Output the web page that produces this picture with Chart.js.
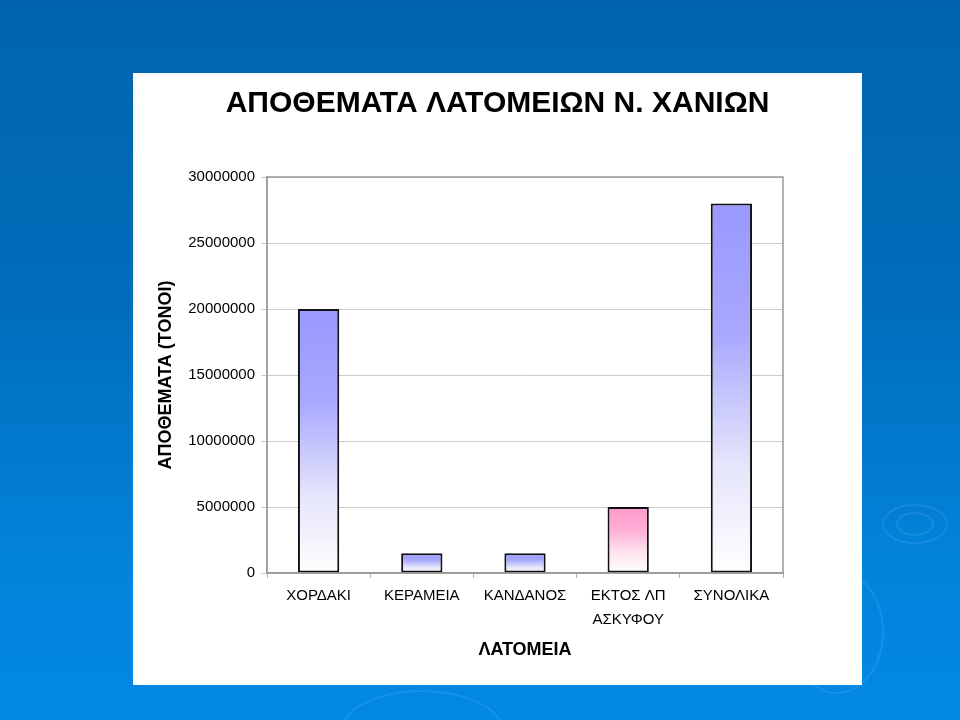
<!DOCTYPE html>
<html>
<head>
<meta charset="utf-8">
<script src="https://cdn.jsdelivr.net/npm/chart.js@4"></script>
<style>
    html, body { margin: 0; padding: 0; }
    body {
        width: 960px;
        height: 720px;
        overflow: hidden;
        position: relative;
        background: linear-gradient(to bottom, #0064ae 0%, #006cba 40%, #0284dc 80%, #0289e4 100%);
        font-family: "Liberation Sans", Arial, sans-serif;
    }
    .ring {
        position: absolute;
        border: 2px solid rgba(120, 190, 255, 0.18);
        border-radius: 50%;
    }
    #panel {
        position: absolute;
        left: 133px;
        top: 73px;
        width: 729px;
        height: 612px;
        background: #ffffff;
    }
</style>
</head>
<body>
<div class="ring" style="left:882px;top:504px;width:62px;height:36px;"></div>
<div class="ring" style="left:896px;top:512px;width:34px;height:20px;"></div>
<div class="ring" style="left:790px;top:570px;width:90px;height:120px;"></div>
<div class="ring" style="left:340px;top:690px;width:160px;height:80px;"></div>
<div id="panel"><canvas id="bar-canvas" width="729" height="612"></canvas></div>

<script>
// data
var categories = ['ΧΟΡΔΑΚΙ', 'ΚΕΡΑΜΕΙΑ', 'ΚΑΝΔΑΝΟΣ', ['ΕΚΤΟΣ ΛΠ', 'ΑΣΚΥΦΟΥ'], 'ΣΥΝΟΛΙΚΑ'];
var reserves = [20000000, 1500000, 1500000, 5000000, 28000000];
var topColors = ['#9999ff', '#9999ff', '#9999ff', '#ff99cc', '#9999ff'];
var yTicks = [0, 5000000, 10000000, 15000000, 20000000, 25000000, 30000000];

function barGradient(context) {
    var chart = context.chart;
    if (!chart.chartArea) {
        return topColors[context.dataIndex];
    }
    var yScale = chart.scales.y;
    var top = yScale.getPixelForValue(reserves[context.dataIndex]);
    var base = yScale.getPixelForValue(0);
    var col = topColors[context.dataIndex];
    var g = chart.ctx.createLinearGradient(0, top, 0, base);
    g.addColorStop(0, col);
    g.addColorStop(0.35, col === '#ff99cc' ? '#ffb0d6' : '#a8a8ff');
    g.addColorStop(0.7, col === '#ff99cc' ? '#ffe4f0' : '#e4e4fb');
    g.addColorStop(1, '#ffffff');
    return g;
}

// frame round the plot area (top and right sides)
var plotFrame = {
    id: 'plotFrame',
    afterDatasetsDraw: function (chart) {
        var a = chart.chartArea;
        var ctx = chart.ctx;
        ctx.save();
        ctx.strokeStyle = '#9a9a9a';
        ctx.lineWidth = 1.5;
        ctx.strokeRect(a.left, a.top, a.right - a.left, a.bottom - a.top);
        ctx.restore();
    }
};

var barConfig = {
    type: 'bar',
    data: {
        labels: categories,
        datasets: [{
            label: 'ΑΠΟΘΕΜΑΤΑ',
            data: reserves,
            backgroundColor: barGradient,
            borderColor: '#111111',
            borderWidth: 2,
            borderSkipped: false,
            categoryPercentage: 1.0,
            barPercentage: 0.4
        }]
    },
    options: {
        responsive: false,
        animation: false,
        layout: {
            padding: { left: 0, right: 0, top: 0, bottom: 12 }
        },
        plugins: {
            legend: { display: false },
            tooltip: { enabled: false },
            title: {
                display: true,
                text: 'ΑΠΟΘΕΜΑΤΑ ΛΑΤΟΜΕΙΩΝ Ν. ΧΑΝΙΩΝ',
                color: '#000000',
                font: { family: 'Liberation Sans', size: 30, weight: 'bold' },
                padding: { top: 13, bottom: 55 }
            }
        },
        scales: {
            x: {
                offset: true,
                grid: {
                    display: true,
                    offset: true,
                    drawOnChartArea: false,
                    color: '#b0b0b0',
                    tickLength: 5
                },
                border: { color: '#9a9a9a', width: 1.5 },
                ticks: {
                    color: '#000000',
                    font: { family: 'Liberation Sans', size: 15, lineHeight: 1.6 },
                    maxRotation: 0,
                    autoSkip: false,
                    padding: 6
                },
                title: {
                    display: true,
                    text: 'ΛΑΤΟΜΕΙΑ',
                    color: '#000000',
                    font: { family: 'Liberation Sans', size: 18, weight: 'bold' },
                    padding: { top: 4, bottom: 12 }
                },
                afterFit: function (scale) { scale.height = 100; }
            },
            y: {
                min: 0,
                max: 30000000,
                afterBuildTicks: function (scale) {
                    scale.ticks = yTicks.map(function (v) { return { value: v }; });
                },
                grid: {
                    color: '#cccccc',
                    tickLength: 6
                },
                border: { color: '#9a9a9a', width: 1.5 },
                ticks: {
                    color: '#000000',
                    font: { family: 'Liberation Sans', size: 15 },
                    padding: 6,
                    callback: function (v) { return String(v); }
                },
                title: {
                    display: true,
                    text: 'ΑΠΟΘΕΜΑΤΑ (ΤΟΝΟΙ)',
                    color: '#000000',
                    font: { family: 'Liberation Sans', size: 18, weight: 'bold' },
                    padding: { top: 22, bottom: 0 }
                },
                afterFit: function (scale) { scale.width = 134; }
            },
            // empty right-hand strip so the title centres on the whole panel
            yRight: {
                position: 'right',
                min: 0,
                max: 30000000,
                grid: { display: false },
                border: { display: false },
                ticks: { display: false },
                afterFit: function (scale) { scale.width = 79; }
            }
        }
    },
    plugins: [plotFrame]
};

var ctx = document.getElementById('bar-canvas').getContext('2d');
window.myBar = new Chart(ctx, barConfig);
</script>
</body>
</html>
